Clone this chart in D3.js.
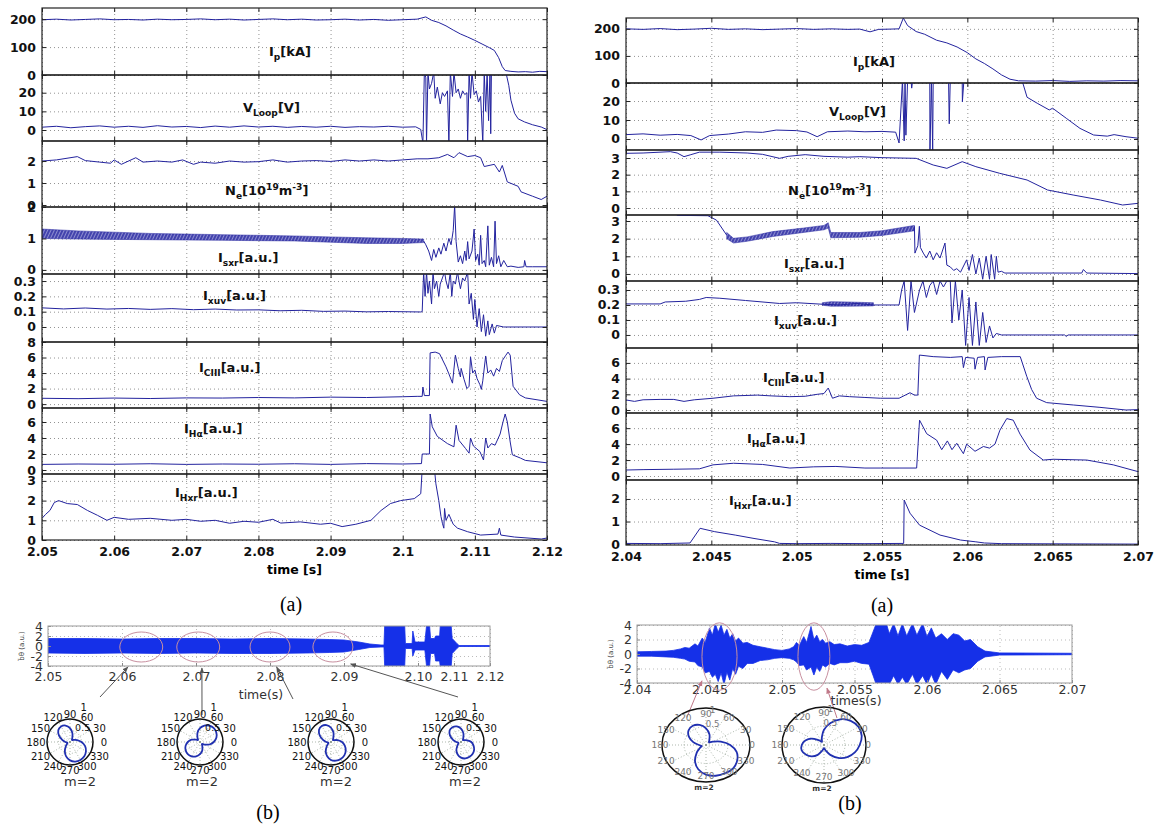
<!DOCTYPE html>
<html>
<head>
<meta charset="utf-8">
<script src="https://cdn.jsdelivr.net/npm/d3@7"></script>
<style>
  body { margin: 0; background: #fff; }
  svg { display: block; }
  .grid line { stroke: #777; stroke-dasharray: 1,3; stroke-width: 0.8; }
  .grid .domain, .ax .domain { display: none; }
  .ax line { stroke: #222; }
  .ax text { font-family: "DejaVu Sans", sans-serif; font-weight: bold; font-size: 12.5px; fill: #111; }
  .mx text { font-family: "DejaVu Sans", sans-serif; font-size: 12.5px; fill: #333; }
  .mx line { stroke: #888; }
  .mx .domain { display: none; }
  .mgrid line { stroke: #bbb; stroke-dasharray: 1,3; }
  .mgrid .domain { display: none; }
</style>
</head>
<body>
<svg id="fig" width="1157" height="827"></svg>
<script>
// ---------- tick values ----------
const leftTimeTicks = [2.05, 2.06, 2.07, 2.08, 2.09, 2.10, 2.11, 2.12];
const rightTimeTicks = [2.04, 2.045, 2.05, 2.055, 2.06, 2.065, 2.07];
const ticksIp = [0, 100, 200];
const ticksV = [0, 10, 20];
const ticksNeL = [0, 1, 2];
const ticksNeR = [0, 1, 2, 3];
const ticksSxrL = [0, 1, 2];
const ticksSxrR = [0, 1, 2, 3];
const ticksXuv = [0, 0.1, 0.2, 0.3];
const ticksCiiiL = [0, 2, 4, 6, 8];
const ticksCiiiR = [0, 2, 4, 6];
const ticksHa = [0, 2, 4, 6];
const ticksHxrL = [0, 1, 2, 3];
const ticksHxrR = [0, 1, 2];
const mirnovTicks = [-4, -2, 0, 2, 4];

// ---------- signal names ----------
const labelIp = [["I"], ["p", "sub"], ["[kA]"]];
const labelV = [["V"], ["Loop", "sub"], ["[V]"]];
const labelNe = [["N"], ["e", "sub"], ["[10"], ["19", "sup"], ["m"], ["-3", "sup"], ["]"]];
const labelSxr = [["I"], ["sxr", "sub"], ["[a.u.]"]];
const labelXuv = [["I"], ["xuv", "sub"], ["[a.u.]"]];
const labelCiii = [["I"], ["CIII", "sub"], ["[a.u.]"]];
const labelHa = [["I"], ["H\u03b1", "sub"], ["[a.u.]"]];
const labelHxr = [["I"], ["Hxr", "sub"], ["[a.u.]"]];

// ---------- left shot (2.05 - 2.12 s) ----------
const leftIp = [[2.050,198],[2.052,200],[2.054,197],[2.056,199],[2.058,201],[2.060,198],[2.062,199],[2.064,197],[2.066,200],[2.068,198],[2.070,199],[2.072,201],[2.074,198],[2.076,200],[2.078,197],[2.080,199],[2.082,201],[2.084,198],[2.086,200],[2.088,197],[2.090,198],[2.092,200],[2.094,197],[2.096,199],[2.098,196],[2.100,198],[2.102,200],[2.1032,208],[2.104,196],[2.105,188],[2.106,176],[2.107,161],[2.108,147],[2.109,136],[2.110,124],[2.111,111],[2.112,98],[2.1127,88],[2.1133,62],[2.1138,30],[2.1142,16],[2.115,13],[2.116,11],[2.117,12],[2.118,10],[2.119,13],[2.120,12]];

const leftVloop = [[2.050,1.5],[2.052,2.0],[2.054,1.2],[2.056,1.8],[2.058,2.2],[2.060,1.5],[2.062,2.0],[2.064,1.4],[2.066,2.3],[2.068,1.6],[2.070,1.9],[2.072,1.3],[2.074,2.1],[2.076,1.5],[2.078,2.2],[2.080,1.6],[2.082,2.0],[2.084,1.4],[2.086,1.9],[2.088,1.5],[2.090,2.0],[2.092,1.4],[2.094,1.8],[2.096,1.6],[2.098,2.0],[2.100,1.5],[2.1018,1.7],[2.1025,0.3],[2.1028,-7],[2.1030,31],[2.1032,28],[2.1033,-7],[2.1035,31],[2.1037,22],[2.1040,25],[2.1043,31],[2.1045,17],[2.1048,23],[2.1052,14],[2.1055,20],[2.1058,18],[2.1062,21],[2.1064,-7],[2.1066,31],[2.1069,18],[2.1071,31],[2.1074,20],[2.1077,22],[2.1080,17],[2.1083,21],[2.1086,19],[2.1089,20],[2.1090,-7],[2.1092,31],[2.1094,17],[2.1096,31],[2.1099,19],[2.1102,21],[2.1105,15],[2.1108,18],[2.1111,-7],[2.1113,31],[2.1115,10],[2.1117,31],[2.1119,5],[2.1121,31],[2.1122,-2],[2.1123,32],[2.1143,31],[2.1147,24],[2.1150,16],[2.1155,9],[2.1160,6],[2.1169,4.3],[2.1180,2.8],[2.1192,1.6],[2.1200,0.2]];

const leftNe = [[2.050,2.0],[2.052,2.05],[2.0549,2.2],[2.056,2.02],[2.058,1.95],[2.0595,1.9],[2.060,2.05],[2.061,1.85],[2.063,2.15],[2.064,1.95],[2.066,2.0],[2.068,1.95],[2.0695,2.05],[2.071,1.85],[2.072,1.95],[2.074,1.9],[2.076,2.0],[2.078,1.95],[2.080,1.97],[2.082,2.05],[2.084,1.95],[2.086,2.0],[2.088,2.02],[2.090,1.98],[2.092,2.05],[2.094,2.0],[2.096,2.05],[2.098,2.0],[2.100,2.05],[2.102,2.1],[2.1035,2.1],[2.105,2.15],[2.1062,2.3],[2.1071,2.15],[2.1078,2.38],[2.109,2.2],[2.110,2.25],[2.1108,2.15],[2.1113,1.75],[2.1127,1.85],[2.1134,1.5],[2.1138,1.8],[2.1145,1.05],[2.116,0.85],[2.1164,0.6],[2.118,0.4],[2.1192,0.25],[2.120,0.4]];

const leftSxrHi = [[2.050,1.30],[2.055,1.24],[2.060,1.2],[2.065,1.16],[2.070,1.14],[2.075,1.12],[2.080,1.10],[2.085,1.08],[2.090,1.05],[2.095,1.02],[2.100,1.0],[2.1029,0.98]];
const leftSxrLo = [[2.050,1.0],[2.055,0.98],[2.060,0.97],[2.065,0.96],[2.070,0.95],[2.075,0.94],[2.080,0.93],[2.085,0.92],[2.090,0.88],[2.095,0.84],[2.100,0.84],[2.1029,0.87]];
const leftSxr = [[2.1029,0.92],[2.1032,0.8],[2.1036,0.6],[2.104,0.3],[2.1043,0.65],[2.1046,0.4],[2.105,0.7],[2.1053,0.5],[2.1057,0.85],[2.106,0.6],[2.1064,1.0],[2.1067,0.8],[2.107,1.25],[2.1072,2.05],[2.1074,0.9],[2.1077,0.25],[2.108,0.45],[2.1083,0.2],[2.1086,0.6],[2.1088,0.3],[2.109,0.9],[2.1092,0.35],[2.1096,0.6],[2.1099,1.3],[2.1101,0.3],[2.1104,0.5],[2.1106,0.15],[2.1108,1.1],[2.111,0.2],[2.1113,0.3],[2.1115,0.1],[2.1118,1.4],[2.112,0.15],[2.1123,0.4],[2.1126,0.1],[2.1128,1.55],[2.113,0.2],[2.1133,0.45],[2.1136,0.1],[2.114,0.3],[2.1145,0.1],[2.115,0.12],[2.116,0.08],[2.1168,0.1],[2.1169,0.3],[2.1171,0.1],[2.118,0.1],[2.120,0.1]];

const leftXuv = [[2.050,0.125],[2.053,0.118],[2.056,0.124],[2.059,0.117],[2.062,0.121],[2.065,0.115],[2.068,0.12],[2.071,0.113],[2.074,0.117],[2.077,0.111],[2.080,0.112],[2.083,0.106],[2.086,0.109],[2.089,0.102],[2.092,0.104],[2.095,0.099],[2.098,0.101],[2.1025,0.098],[2.1027,0.1],[2.1029,0.36],[2.1031,0.2],[2.1033,0.36],[2.1035,0.22],[2.1037,0.3],[2.104,0.15],[2.1042,0.36],[2.1044,0.25],[2.1047,0.3],[2.105,0.2],[2.1052,0.28],[2.1055,0.32],[2.1058,0.36],[2.106,0.3],[2.1063,0.25],[2.1066,0.36],[2.1068,0.2],[2.107,0.3],[2.1073,0.28],[2.1076,0.36],[2.1078,0.3],[2.108,0.25],[2.1083,0.32],[2.1086,0.3],[2.109,0.36],[2.1092,0.15],[2.1095,0.22],[2.1098,0.05],[2.110,0.18],[2.1103,0.0],[2.1106,0.12],[2.1109,-0.03],[2.1112,0.08],[2.1115,-0.06],[2.1118,0.04],[2.112,-0.05],[2.1124,0.02],[2.1127,-0.04],[2.113,0.01],[2.114,0.0],[2.120,0.0]];

const leftCiii = [[2.050,0.75],[2.055,0.7],[2.060,0.78],[2.065,0.72],[2.070,0.8],[2.075,0.78],[2.080,0.85],[2.085,0.8],[2.090,0.9],[2.095,0.85],[2.100,0.95],[2.102,1.0],[2.1027,1.0],[2.1028,2.2],[2.103,1.1],[2.1037,1.1],[2.1038,6.6],[2.1045,6.7],[2.1051,6.5],[2.106,4.8],[2.1064,3.9],[2.1069,2.7],[2.1073,6.3],[2.1077,4.6],[2.108,3.5],[2.1081,4.6],[2.1085,3.2],[2.1089,2.0],[2.1092,2.3],[2.1094,6.1],[2.1097,4.0],[2.110,4.4],[2.1103,3.3],[2.1107,2.5],[2.1109,1.9],[2.1111,3.0],[2.1115,6.2],[2.1118,4.0],[2.1122,4.4],[2.1126,3.6],[2.113,4.6],[2.1134,4.2],[2.1138,5.6],[2.1143,6.3],[2.1146,6.7],[2.1149,6.3],[2.1153,2.3],[2.1162,1.2],[2.117,0.8],[2.120,0.35]];

const leftHa = [[2.050,0.7],[2.055,0.75],[2.060,0.72],[2.065,0.78],[2.070,0.7],[2.075,0.75],[2.080,0.72],[2.085,0.78],[2.090,0.7],[2.095,0.8],[2.100,0.75],[2.1026,0.8],[2.1027,2.0],[2.1037,2.0],[2.1038,7.0],[2.1041,5.4],[2.1048,4.2],[2.1062,3.3],[2.1071,2.9],[2.1074,5.6],[2.1078,3.7],[2.1087,2.7],[2.1092,2.1],[2.1094,4.0],[2.1098,3.0],[2.1107,2.3],[2.1112,1.25],[2.1115,4.0],[2.1118,2.75],[2.1123,3.3],[2.1128,3.1],[2.1135,4.5],[2.1139,6.0],[2.1142,7.0],[2.1145,6.0],[2.1149,3.5],[2.1152,1.9],[2.1163,1.5],[2.117,1.2],[2.120,0.9]];

const leftHxr = [[2.050,1.1],[2.0505,1.3],[2.0511,1.5],[2.0517,1.9],[2.0523,2.0],[2.0535,1.85],[2.0549,1.8],[2.0563,1.5],[2.0577,1.25],[2.059,1.0],[2.060,1.15],[2.062,1.05],[2.065,1.1],[2.068,1.0],[2.070,1.05],[2.072,0.95],[2.074,1.0],[2.076,0.85],[2.078,0.95],[2.080,0.9],[2.082,1.05],[2.0831,0.86],[2.0858,0.92],[2.0886,0.8],[2.090,0.85],[2.0916,0.68],[2.0935,0.8],[2.0956,1.0],[2.097,1.5],[2.0983,1.85],[2.0997,2.0],[2.1016,2.1],[2.1025,2.35],[2.1027,3.6],[2.1044,3.6],[2.1046,2.85],[2.105,2.0],[2.1053,1.2],[2.1055,0.85],[2.1057,0.6],[2.1058,1.6],[2.106,1.0],[2.1064,1.3],[2.107,0.8],[2.1076,0.6],[2.109,0.42],[2.1108,0.25],[2.1132,0.3],[2.1134,0.6],[2.1136,0.25],[2.1155,0.15],[2.1192,0.05],[2.120,0.1]];

// ---------- right shot (2.04 - 2.07 s) ----------
const rightIp = [[2.040,200],[2.041,198],[2.042,201],[2.043,197],[2.044,199],[2.045,202],[2.046,198],[2.047,200],[2.048,197],[2.049,199],[2.050,201],[2.051,198],[2.052,200],[2.053,198],[2.0537,199],[2.0543,189],[2.0548,198],[2.0555,199],[2.056,200],[2.05625,240],[2.0565,212],[2.057,190],[2.0575,180],[2.0582,158],[2.0588,148],[2.0594,133],[2.060,112],[2.0605,89],[2.061,72],[2.0615,52],[2.062,30],[2.0625,14],[2.063,8],[2.064,7],[2.065,9],[2.066,6],[2.067,8],[2.068,7],[2.069,9],[2.070,8]];

const rightVloop = [[2.040,2.3],[2.041,2.7],[2.042,2.0],[2.043,2.4],[2.0438,1.8],[2.0444,-0.5],[2.0449,1.8],[2.046,2.6],[2.047,3.8],[2.048,3.5],[2.0488,4.7],[2.050,4.4],[2.0506,3.7],[2.0512,1.2],[2.0518,3.8],[2.053,4.2],[2.054,3.8],[2.055,4.0],[2.0558,3.6],[2.0560,-2.1],[2.0562,31],[2.0563,-1],[2.05635,31],[2.0564,2],[2.0565,31],[2.0567,31],[2.05674,26.8],[2.0568,31],[2.0578,31],[2.05781,-6.5],[2.0579,31],[2.05797,-6.5],[2.0580,31],[2.0589,31],[2.05894,8],[2.0590,31],[2.0597,31],[2.05971,19.6],[2.0598,31],[2.0632,31],[2.0635,22],[2.0641,18.8],[2.0648,15.3],[2.0650,16.2],[2.0658,10.9],[2.0666,5.6],[2.0674,2.1],[2.0682,1.5],[2.0686,2.3],[2.0693,1.2],[2.070,0.4]];

const rightNe = [[2.040,3.28],[2.041,3.3],[2.0426,3.38],[2.043,3.3],[2.0434,3.08],[2.0438,3.2],[2.0443,3.35],[2.0455,3.35],[2.0471,3.3],[2.048,3.22],[2.049,2.98],[2.0495,3.1],[2.0505,3.2],[2.0516,3.1],[2.053,3.05],[2.0537,3.08],[2.055,3.02],[2.057,2.98],[2.058,2.58],[2.0588,2.38],[2.0597,2.78],[2.0605,2.48],[2.0619,2.08],[2.0635,1.68],[2.0647,1.08],[2.0662,0.78],[2.0678,0.48],[2.0691,0.18],[2.070,0.28]];

const rightSxr = [[2.040,3.6],[2.0429,3.6],[2.043,3.32],[2.0448,3.3],[2.0453,3.05],[2.0459,2.2]];
const rightSxrHi = [[2.0459,2.35],[2.0463,2.02],[2.0471,2.1],[2.0486,2.4],[2.0504,2.6],[2.0516,2.75],[2.05185,2.9],[2.0520,2.35],[2.0537,2.35],[2.0550,2.45],[2.0566,2.7],[2.0569,2.75]];
const rightSxrLo = [[2.0459,2.0],[2.0463,1.75],[2.0471,1.85],[2.0486,2.12],[2.0504,2.35],[2.0516,2.5],[2.05185,2.6],[2.0520,2.05],[2.0537,2.08],[2.0550,2.18],[2.0566,2.4],[2.0569,2.45]];
const rightSxr2 = [[2.0569,2.7],[2.05693,1.18],[2.0571,1.6],[2.05719,2.7],[2.05725,1.5],[2.05742,1.18],[2.0576,0.9],[2.0578,1.3],[2.058,0.8],[2.0582,1.2],[2.0584,0.9],[2.05869,1.75],[2.0588,0.5],[2.059,0.4],[2.0592,0.2],[2.05938,0.3],[2.0596,0.1],[2.05996,0.8],[2.0601,0.2],[2.0603,1.1],[2.0605,0.0],[2.0607,0.9],[2.0609,-0.3],[2.0611,1.0],[2.0613,-0.3],[2.0614,1.1],[2.0616,-0.3],[2.0617,1.0],[2.0618,0.1],[2.062,0.15],[2.0622,0.05],[2.065,0.05],[2.0667,0.05],[2.0668,0.25],[2.067,0.05],[2.070,0.02]];

const rightXuv = [[2.040,0.207],[2.042,0.207],[2.0423,0.22],[2.0435,0.225],[2.0443,0.237],[2.0447,0.25],[2.0455,0.245],[2.047,0.23],[2.049,0.21],[2.050,0.215],[2.0515,0.205],[2.0525,0.2],[2.0535,0.21],[2.0545,0.2],[2.056,0.2],[2.05615,0.3],[2.0563,0.36],[2.0565,0.03],[2.0567,0.36],[2.0569,0.15],[2.0572,0.3],[2.0574,0.36],[2.0576,0.25],[2.0578,0.33],[2.058,0.36],[2.0582,0.27],[2.0584,0.36],[2.0586,0.32],[2.0588,0.36],[2.0590,0.36],[2.0591,0.08],[2.0593,0.36],[2.0595,0.1],[2.0597,0.3],[2.0599,-0.07],[2.0601,0.25],[2.0603,-0.07],[2.0605,0.22],[2.0607,-0.07],[2.0609,0.15],[2.0611,-0.05],[2.0613,0.06],[2.0615,-0.02],[2.0617,0.01],[2.062,0.0],[2.0657,0.0],[2.0658,-0.01],[2.0659,0.0],[2.070,0.0]];
const rightXuvHi = [[2.0515,0.215],[2.052,0.222],[2.053,0.22],[2.0545,0.215]];
const rightXuvLo = [[2.0515,0.198],[2.052,0.192],[2.053,0.192],[2.0545,0.194]];

const rightCiii = [[2.040,1.28],[2.0405,1.1],[2.041,1.3],[2.042,1.35],[2.0428,1.35],[2.0434,1.1],[2.044,1.3],[2.0451,1.5],[2.0463,1.8],[2.0477,1.9],[2.0485,1.8],[2.0496,1.7],[2.0505,1.75],[2.0512,2.0],[2.0516,2.1],[2.05185,2.8],[2.0521,1.5],[2.0525,1.8],[2.0531,1.7],[2.054,1.6],[2.0549,1.5],[2.056,1.5],[2.05664,2.2],[2.0569,1.9],[2.0571,1.9],[2.05719,7.0],[2.058,6.8],[2.059,6.7],[2.0597,6.8],[2.05977,5.4],[2.0599,6.7],[2.0604,6.6],[2.06045,5.2],[2.0606,6.7],[2.061,6.8],[2.06104,5.1],[2.0612,6.7],[2.062,6.8],[2.0631,6.8],[2.06348,4.3],[2.06377,2.6],[2.06406,1.5],[2.06465,0.94],[2.06621,0.64],[2.06777,0.34],[2.0693,0.0],[2.070,0.05]];

const rightHa = [[2.040,0.75],[2.041,0.8],[2.0428,0.85],[2.0443,0.9],[2.0451,1.4],[2.0463,1.6],[2.048,1.45],[2.0496,1.0],[2.051,1.15],[2.0523,1.2],[2.054,1.0],[2.0549,1.0],[2.056,1.0],[2.05703,1.0],[2.0572,7.0],[2.05762,5.3],[2.0582,4.5],[2.0585,3.3],[2.05883,4.4],[2.0591,3.3],[2.05938,4.1],[2.05977,2.8],[2.05996,4.0],[2.06045,3.1],[2.06094,3.7],[2.0613,3.5],[2.06162,4.0],[2.06191,5.75],[2.06231,7.2],[2.06269,7.0],[2.06309,5.25],[2.06367,3.25],[2.06445,2.0],[2.06504,2.1],[2.067,2.0],[2.06855,1.4],[2.070,0.55]];

const rightHxr = [[2.040,0.03],[2.042,0.02],[2.04375,0.05],[2.04434,0.7],[2.0452,0.55],[2.0464,0.4],[2.0475,0.25],[2.0487,0.1],[2.049,0.03],[2.050,0.02],[2.052,0.03],[2.054,0.02],[2.05627,0.03],[2.0563,1.95],[2.05664,1.37],[2.0572,0.84],[2.0584,0.4],[2.0596,0.18],[2.0605,0.1],[2.061,0.05],[2.062,0.02],[2.070,0.0]];

// ---------- Mirnov envelopes [t, upper, lower] ----------
const leftMirnov = [[2.0500,1.5,-1.4],[2.0550,1.5,-1.5],[2.0600,1.4,-1.4],[2.0650,1.5,-1.5],[2.0700,1.5,-1.4],[2.0750,1.4,-1.5],[2.0800,1.5,-1.5],[2.0850,1.4,-1.4],[2.0880,1.3,-1.3],[2.0900,1.2,-1.2],[2.0920,0.8,-0.7],[2.0935,0.4,-0.3],[2.0950,0.2,-0.2],[2.0954,0.2,-0.2],[2.0955,4.2,-4.2],[2.0982,4.2,-4.2],[2.0983,0.5,-0.5],[2.0992,0.5,-0.5],[2.0993,3,-2],[2.0996,0.8,-0.8],[2.1019,0.8,-0.8],[2.1024,4.2,-4.2],[2.1032,4.2,-4.2],[2.1035,1.5,-1.5],[2.1046,1.5,-1.5],[2.1049,2,-3],[2.1060,2,-3],[2.1062,4.2,-4.2],[2.1092,4.2,-4.2],[2.1095,1.5,-1.5],[2.1108,0.5,-0.5],[2.1114,0.1,-0.1],[2.1200,0.1,-0.1]];
const rightMirnov = [[2.040,0.3,-0.3],[2.041,0.35,-0.3],[2.042,0.4,-0.4],[2.0425,0.5,-0.45],[2.043,0.7,-0.6],[2.0433,0.9,-0.7],[2.0436,0.8,-1.0],[2.044,1.4,-1.1],[2.0442,1.1,-1.6],[2.0445,2.2,-1.8],[2.0447,1.6,-2.6],[2.045,3.6,-2.4],[2.0452,2.6,-3.2],[2.0454,4.2,-2.8],[2.0456,3.0,-3.8],[2.0458,4.0,-2.6],[2.046,2.6,-4.2],[2.0462,3.4,-2.5],[2.0464,2.2,-3.6],[2.0466,2.8,-2.0],[2.0468,1.8,-2.8],[2.047,2.2,-1.7],[2.0473,1.5,-2.0],[2.0476,1.6,-1.3],[2.048,1.2,-1.3],[2.0485,1.0,-0.9],[2.049,0.8,-0.8],[2.0495,0.6,-0.6],[2.050,0.5,-0.5],[2.0505,0.7,-0.6],[2.0508,1.0,-0.8],[2.051,1.6,-1.1],[2.0512,1.2,-1.6],[2.0515,2.4,-1.5],[2.0517,1.6,-2.2],[2.052,3.8,-1.8],[2.0522,2.0,-2.9],[2.0524,2.6,-1.8],[2.0526,1.7,-2.4],[2.0528,2.0,-1.5],[2.053,1.5,-1.8],[2.0533,1.7,-1.3],[2.0536,1.3,-1.5],[2.054,1.4,-1.2],[2.0545,1.1,-1.2],[2.055,1.3,-1.0],[2.0555,1.2,-1.3],[2.056,1.6,-1.4],[2.0565,4.2,-4.2],[2.0572,4.2,-4.2],[2.0574,2.8,-4.2],[2.0577,4.2,-3.0],[2.058,2.5,-4.2],[2.0583,4.2,-3.2],[2.0586,2.5,-4.2],[2.059,4.2,-2.8],[2.0593,2.6,-4.2],[2.0597,4.2,-3.0],[2.060,2.4,-4.2],[2.0603,3.6,-2.8],[2.0606,2.2,-4.2],[2.061,2.8,-2.4],[2.0614,2.0,-3.5],[2.0618,2.8,-2.2],[2.0622,2.6,-2.6],[2.0626,1.8,-2.2],[2.063,2.0,-2.0],[2.0635,1.0,-1.0],[2.064,0.4,-0.4],[2.065,0.15,-0.15],[2.070,0.1,-0.1]];

// ellipses marking the analysed windows: [t start, t end]
const leftWindows = [[2.0597,2.0655],[2.0674,2.0732],[2.0773,2.0827],[2.0858,2.0912]];
const rightWindows = [[2.04448,2.0469],[2.0511,2.0533]];
// arrow tips: [t, amplitude]
const leftArrowTips = [[2.0608,-4.2],[2.0708,-4.4],[2.0809,-4.2],[2.0909,-3.6]];
const rightArrowTips = [[2.04448,-3.7],[2.0531,-4.7]];

// ---------- polar mode structure ----------
const polarAngles = [0,15,30,45,60,75,90,105,120,135,150,165,180,195,210,225,240,255,270,285,300,315,330,345];
const polarL1 = [0.5,0.32,0.18,0.12,0.2,0.4,0.6,0.74,0.78,0.72,0.55,0.35,0.2,0.12,0.14,0.25,0.45,0.65,0.8,0.88,0.9,0.88,0.8,0.68];
const polarL2 = [0.6,0.74,0.82,0.85,0.82,0.74,0.6,0.42,0.22,0.12,0.2,0.38,0.53,0.65,0.72,0.75,0.72,0.65,0.53,0.38,0.2,0.12,0.22,0.42];
const polarL3 = [0.48,0.3,0.17,0.12,0.2,0.42,0.62,0.76,0.8,0.74,0.56,0.36,0.2,0.12,0.14,0.26,0.46,0.64,0.78,0.84,0.85,0.82,0.74,0.62];
const polarL4 = [0.45,0.28,0.16,0.12,0.2,0.4,0.58,0.7,0.74,0.7,0.55,0.36,0.2,0.12,0.13,0.22,0.4,0.56,0.68,0.74,0.74,0.72,0.66,0.56];
const polarR1 = [0.55,0.35,0.18,0.1,0.15,0.3,0.45,0.56,0.6,0.56,0.45,0.3,0.16,0.1,0.16,0.3,0.5,0.68,0.8,0.86,0.88,0.88,0.82,0.72];
const polarR2 = [0.85,0.93,0.95,0.9,0.78,0.6,0.4,0.2,0.1,0.18,0.34,0.46,0.53,0.55,0.5,0.42,0.3,0.15,0.08,0.15,0.3,0.48,0.64,0.76];
const polarLabels = [0,30,60,90,120,150,180,210,240,270,300,330];

// ---------- drawing ----------
const svg = d3.select('#fig');
const lineColor = '#23239e';
const tfmt = d => String(+d.toFixed(3));

// sawtooth texture for the densely oscillating bands
const defs = svg.append('defs');
const pat = defs.append('pattern').attr('id', 'saw').attr('patternUnits', 'userSpaceOnUse')
  .attr('width', 3).attr('height', 3).attr('patternTransform', 'rotate(25)');
pat.append('rect').attr('width', 3).attr('height', 3).attr('fill', '#8d8dd0');
pat.append('line').attr('x1', 1).attr('y1', 0).attr('x2', 1).attr('y2', 3)
  .attr('stroke', '#1a1a9a').attr('stroke-width', 1.3);

function addLabel(g, parts, x, y, size) {
  const t = g.append('text').attr('x', x).attr('y', y)
    .attr('font-family', 'DejaVu Sans').attr('font-weight', 'bold')
    .attr('font-size', size).attr('fill', '#111');
  let shift = 0;
  parts.forEach(p => {
    const kind = p[1] || 'n';
    const target = kind === 'sub' ? 4 : kind === 'sup' ? -5 : 0;
    t.append('tspan').attr('dy', target - shift)
      .attr('font-size', kind === 'n' ? size : size * 0.7).text(p[0]);
    shift = target;
  });
}

function drawColumn(col) {
  const x = d3.scaleLinear().domain(col.tDomain).range([col.x0, col.x1]);
  const w = col.x1 - col.x0;
  const last = col.panels.length - 1;
  col.panels.forEach((p, i) => {
    const top = col.bounds[i], bottom = col.bounds[i + 1];
    const y = d3.scaleLinear().domain(p.yDomain).range([bottom, top]);
    const g = svg.append('g');
    const clipId = col.id + 'c' + i;
    svg.append('clipPath').attr('id', clipId).append('rect')
      .attr('x', col.x0).attr('y', top).attr('width', w).attr('height', bottom - top);

    g.append('g').attr('class', 'grid').attr('transform', `translate(${col.x0},0)`)
      .call(d3.axisLeft(y).tickValues(p.ticks).tickSize(-w).tickFormat(''));
    g.append('g').attr('class', 'grid').attr('transform', `translate(0,${bottom})`)
      .call(d3.axisBottom(x).tickValues(col.ticks).tickSize(-(bottom - top)).tickFormat(''));

    const plot = g.append('g').attr('clip-path', `url(#${clipId})`);
    if (p.band) {
      const hi = p.band[0], lo = p.band[1];
      plot.append('path').datum(hi.map((d, k) => [d[0], d[1], lo[k][1]]))
        .attr('d', d3.area().x(d => x(d[0])).y0(d => y(d[2])).y1(d => y(d[1])))
        .attr('fill', 'url(#saw)').attr('stroke', lineColor).attr('stroke-width', 0.5);
    }
    p.series.forEach(s => {
      plot.append('path').datum(s)
        .attr('d', d3.line().x(d => x(d[0])).y(d => y(d[1])))
        .attr('fill', 'none').attr('stroke', lineColor).attr('stroke-width', 1);
    });

    g.append('g').attr('class', 'ax').attr('transform', `translate(${col.x0},0)`)
      .call(d3.axisLeft(y).tickValues(p.ticks).tickSize(-4).tickPadding(6).tickFormat(d => String(d)));
    g.append('g').attr('class', 'ax').attr('transform', `translate(${col.x1},0)`)
      .call(d3.axisRight(y).tickValues(p.ticks).tickSize(-4).tickFormat(''));
    g.append('g').attr('class', 'ax').attr('transform', `translate(0,${top})`)
      .call(d3.axisTop(x).tickValues(col.ticks).tickSize(-4).tickFormat(''));
    g.append('g').attr('class', 'ax').attr('transform', `translate(0,${bottom})`)
      .call(d3.axisBottom(x).tickValues(col.ticks).tickSize(-4).tickPadding(7)
        .tickFormat(i === last ? tfmt : ''));

    g.append('rect').attr('x', col.x0).attr('y', top).attr('width', w).attr('height', bottom - top)
      .attr('fill', 'none').attr('stroke', '#222').attr('stroke-width', 1.2);
    addLabel(g, p.label, p.lx, p.ly, 13);
  });
  svg.append('text').attr('x', (col.x0 + col.x1) / 2).attr('y', col.bounds[col.bounds.length - 1] + 34)
    .attr('text-anchor', 'middle').attr('font-family', 'DejaVu Sans').attr('font-weight', 'bold')
    .attr('font-size', 12.5).text('time [s]');
}

drawColumn({
  id: 'L', x0: 42, x1: 547, tDomain: [2.05, 2.12], ticks: leftTimeTicks,
  bounds: [8, 75, 141, 207, 274, 342, 408, 474, 540],
  panels: [
    { yDomain: [0, 240], ticks: ticksIp, series: [leftIp], label: labelIp, lx: 269, ly: 56 },
    { yDomain: [-5.9, 29.5], ticks: ticksV, series: [leftVloop], label: labelV, lx: 243, ly: 112 },
    { yDomain: [-0.09, 2.91], ticks: ticksNeL, series: [leftNe], label: labelNe, lx: 225, ly: 195 },
    { yDomain: [-0.13, 2], ticks: ticksSxrL, series: [leftSxr], band: [leftSxrHi, leftSxrLo], label: labelSxr, lx: 218, ly: 262 },
    { yDomain: [-0.098, 0.346], ticks: ticksXuv, series: [leftXuv], label: labelXuv, lx: 203, ly: 300 },
    { yDomain: [-0.5, 8], ticks: ticksCiiiL, series: [leftCiii], label: labelCiii, lx: 199, ly: 372 },
    { yDomain: [-0.5, 7.75], ticks: ticksHa, series: [leftHa], label: labelHa, lx: 184, ly: 433 },
    { yDomain: [0, 3.35], ticks: ticksHxrL, series: [leftHxr], label: labelHxr, lx: 175, ly: 497 }
  ]
});

drawColumn({
  id: 'R', x0: 626, x1: 1138, tDomain: [2.04, 2.07], ticks: rightTimeTicks,
  bounds: [18, 83, 150, 215, 281, 348, 413, 480, 545],
  panels: [
    { yDomain: [0, 240], ticks: ticksIp, series: [rightIp], label: labelIp, lx: 853, ly: 66 },
    { yDomain: [-5.8, 29.5], ticks: ticksV, series: [rightVloop], label: labelV, lx: 829, ly: 116 },
    { yDomain: [-0.42, 3.48], ticks: ticksNeR, series: [rightNe], label: labelNe, lx: 788, ly: 195 },
    { yDomain: [-0.4, 3.34], ticks: ticksSxrR, series: [rightSxr, rightSxr2], band: [rightSxrHi, rightSxrLo], label: labelSxr, lx: 784, ly: 268 },
    { yDomain: [-0.087, 0.36], ticks: ticksXuv, series: [rightXuv], band: [rightXuvHi, rightXuvLo], label: labelXuv, lx: 774, ly: 325 },
    { yDomain: [-0.38, 7.9], ticks: ticksCiiiR, series: [rightCiii], label: labelCiii, lx: 763, ly: 382 },
    { yDomain: [-0.5, 7.9], ticks: ticksHa, series: [rightHa], label: labelHa, lx: 747, ly: 443 },
    { yDomain: [-0.04, 2.84], ticks: ticksHxrR, series: [rightHxr], label: labelHxr, lx: 729, ly: 505 }
  ]
});

// caption letters
[[291, 611, '(a)'], [882, 612, '(a)'], [268, 819, '(b)'], [850, 810, '(b)']].forEach(c => {
  svg.append('text').attr('x', c[0]).attr('y', c[1]).attr('text-anchor', 'middle')
    .attr('font-family', 'Liberation Serif').attr('font-size', 20).text(c[2]);
});

// arrow markers
[['arrG', '#555'], ['arrP', '#c07888']].forEach(m => {
  defs.append('marker').attr('id', m[0]).attr('viewBox', '0 0 10 10').attr('refX', 9).attr('refY', 5)
    .attr('markerWidth', 6).attr('markerHeight', 6).attr('orient', 'auto')
    .append('path').attr('d', 'M0,1L10,5L0,9Z').attr('fill', m[1]);
});

function drawMirnov(m) {
  const x = d3.scaleLinear().domain(m.tDomain).range(m.tRange);
  const y = d3.scaleLinear().domain([-4, 4]).range([m.y1, m.y0]);
  const x0 = m.tRange[0], x1 = m.tRange[m.tRange.length - 1];
  const g = svg.append('g');
  svg.append('clipPath').attr('id', m.id + 'clip').append('rect')
    .attr('x', x0).attr('y', m.y0).attr('width', x1 - x0).attr('height', m.y1 - m.y0);
  g.append('g').attr('class', 'mgrid').attr('transform', `translate(${x0},0)`)
    .call(d3.axisLeft(y).tickValues(mirnovTicks).tickSize(-(x1 - x0)).tickFormat(''));
  g.append('g').attr('class', 'mgrid').attr('transform', `translate(0,${m.y1})`)
    .call(d3.axisBottom(x).tickValues(m.ticks).tickSize(-(m.y1 - m.y0)).tickFormat(''));
  g.append('path').datum(m.data).attr('clip-path', `url(#${m.id}clip)`)
    .attr('d', d3.area().x(d => x(d[0])).y0(d => y(d[2])).y1(d => y(d[1])))
    .attr('fill', '#1530e8').attr('stroke', '#1530e8').attr('stroke-width', 0.8);
  g.append('g').attr('class', 'mx').attr('transform', `translate(${x0},0)`)
    .call(d3.axisLeft(y).tickValues(mirnovTicks).tickSize(-3).tickPadding(5).tickFormat(d => String(d)));
  g.append('g').attr('class', 'mx').attr('transform', `translate(0,${m.y1})`)
    .call(d3.axisBottom(x).tickValues(m.ticks).tickSize(-3).tickPadding(m.pad).tickFormat(m.fmt));
  g.append('rect').attr('x', x0).attr('y', m.y0).attr('width', x1 - x0).attr('height', m.y1 - m.y0)
    .attr('fill', 'none').attr('stroke', '#999').attr('stroke-width', 1);
  g.append('text').attr('x', m.xlab[0]).attr('y', m.xlab[1]).attr('text-anchor', 'middle')
    .attr('font-family', 'DejaVu Sans').attr('font-size', 12.5).attr('fill', '#333').text(m.xtitle);
  g.append('text').attr('transform', `translate(${x0 - 24},${(m.y0 + m.y1) / 2}) rotate(-90)`)
    .attr('text-anchor', 'middle').attr('font-family', 'DejaVu Sans').attr('font-size', 7).attr('fill', '#444')
    .text('b\u0303\u03b8 (a.u.)');
  m.windows.forEach(wd => {
    const cx = (x(wd[0]) + x(wd[1])) / 2, rx = (x(wd[1]) - x(wd[0])) / 2;
    const cy = (y(m.winV[0]) + y(m.winV[1])) / 2, ry = (y(m.winV[0]) - y(m.winV[1])) / 2;
    g.append('ellipse').attr('cx', cx).attr('cy', cy).attr('rx', rx).attr('ry', ry)
      .attr('fill', 'none').attr('stroke', '#c890a0').attr('stroke-width', 1);
  });
  m.arrows.forEach((a, k) => {
    const tip = m.tips[k];
    g.append('line').attr('x1', a[0]).attr('y1', a[1]).attr('x2', x(tip[0])).attr('y2', y(tip[1]))
      .attr('stroke', m.arrowColor).attr('stroke-width', 1).attr('marker-end', `url(#${m.marker})`);
  });
}

drawMirnov({
  id: 'mL', tDomain: [2.05, 2.10, 2.12], tRange: [48, 418, 490], y0: 626, y1: 666,
  ticks: leftTimeTicks, fmt: d3.format('.2f'), data: leftMirnov, pad: 6,
  xlab: [261, 699], xtitle: 'time(s)', windows: leftWindows, winV: [-3.2, 2.8],
  tips: leftArrowTips, arrows: [[100, 697], [202, 715], [293, 699], [458, 697]],
  arrowColor: '#555', marker: 'arrG'
});
drawMirnov({
  id: 'mR', tDomain: [2.04, 2.07], tRange: [637, 1072], y0: 625, y1: 683,
  ticks: rightTimeTicks, fmt: tfmt, data: rightMirnov, pad: 2,
  xlab: [856, 705], xtitle: 'times(s)', windows: rightWindows, winV: [-5, 4.3],
  tips: rightArrowTips, arrows: [[687, 717], [837, 718]],
  arrowColor: '#c07888', marker: 'arrP'
});

function drawPolar(p) {
  const g = svg.append('g');
  const r = d3.scaleLinear().domain([0, 1]).range([0, p.rx]);
  const inner = g.append('g').attr('transform', `translate(${p.cx},${p.cy}) scale(1,${p.ry / p.rx})`);
  polarLabels.forEach(a => {
    const rad = a * Math.PI / 180;
    inner.append('line').attr('x1', 0).attr('y1', 0)
      .attr('x2', r(1) * Math.cos(rad)).attr('y2', -r(1) * Math.sin(rad))
      .attr('stroke', '#8a9a8a').attr('stroke-dasharray', '1,2').attr('stroke-width', 0.7)
      .attr('vector-effect', 'non-scaling-stroke');
  });
  inner.append('circle').attr('r', r(0.5)).attr('fill', 'none').attr('stroke', '#8a9a8a')
    .attr('stroke-dasharray', '1,2').attr('stroke-width', 0.7).attr('vector-effect', 'non-scaling-stroke');
  inner.append('path').datum(polarAngles.map((a, k) => [a, p.radii[k]]))
    .attr('d', d3.lineRadial().angle(d => (90 - d[0]) * Math.PI / 180).radius(d => r(d[1])).curve(d3.curveCardinalClosed))
    .attr('fill', 'none').attr('stroke', '#2030b0').attr('stroke-width', 1.8).attr('vector-effect', 'non-scaling-stroke');
  inner.append('circle').attr('r', r(1)).attr('fill', 'none').attr('stroke', '#111')
    .attr('stroke-width', 1.5).attr('vector-effect', 'non-scaling-stroke');
  polarLabels.forEach(a => {
    const rad = a * Math.PI / 180;
    g.append('text').attr('x', p.cx + (p.rx + p.lpad[0]) * Math.cos(rad))
      .attr('y', p.cy - (p.ry + p.lpad[1]) * Math.sin(rad))
      .attr('text-anchor', 'middle').attr('dominant-baseline', 'central')
      .attr('font-family', 'DejaVu Sans').attr('font-size', p.fs).attr('fill', p.fc).text(a);
  });
  g.append('text').attr('x', p.cx + p.rx * p.one[0]).attr('y', p.cy - p.ry * p.one[1])
    .attr('text-anchor', 'middle').attr('dominant-baseline', 'central')
    .attr('font-family', 'DejaVu Sans').attr('font-size', p.fs).attr('fill', p.fc).text('1');
  g.append('text').attr('x', p.cx + p.rx * p.half[0]).attr('y', p.cy - p.ry * p.half[1])
    .attr('text-anchor', 'middle').attr('dominant-baseline', 'central')
    .attr('font-family', 'DejaVu Sans').attr('font-size', p.fs * 0.95).attr('fill', p.fc).text('0.5');
  g.append('text').attr('x', p.cx + p.mdx).attr('y', p.cy + p.ry + p.mdy).attr('text-anchor', 'middle')
    .attr('font-family', 'DejaVu Sans').attr('font-size', p.mfs).attr('font-weight', p.mfw)
    .attr('fill', '#333').text('m=2');
}

[[70, polarL1, 10], [200, polarL2, 2], [331, polarL3, 5], [461, polarL4, 4]].forEach(d => {
  drawPolar({ cx: d[0], cy: 742, rx: 23, ry: 23, radii: d[1], lpad: [11, 5],
    one: [0.6, 1.52], half: [0.55, 0.62],
    fs: 10, fc: '#111', mdx: d[2], mdy: 21, mfs: 13, mfw: 'normal' });
});
drawPolar({ cx: 706, cy: 745, rx: 44, ry: 37, radii: polarR1, lpad: [2, -6], one: [0.15, 0.94], half: [0.15, 0.58],
  fs: 9, fc: '#777', mdx: -2, mdy: 8, mfs: 7.5, mfw: 'bold' });
drawPolar({ cx: 824, cy: 745, rx: 42, ry: 38, radii: polarR2, lpad: [2, -6], one: [0.15, 0.94], half: [0.15, 0.58],
  fs: 9, fc: '#777', mdx: -2, mdy: 8, mfs: 7.5, mfw: 'bold' });
</script>
</body>
</html>
